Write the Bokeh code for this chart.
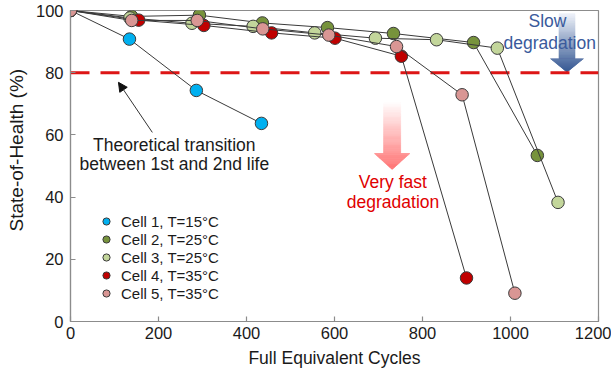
from bokeh.plotting import figure
from bokeh.models import Legend, LegendItem, Label, Arrow, NormalHead, Range1d, FixedTicker
from bokeh.embed import file_html
from bokeh.resources import INLINE

# ---- data ----
cell1_x = [0, 134, 286, 434]
cell1_y = [100, 90.8, 74.3, 63.7]
cell2_x = [0, 139, 293, 436, 584, 734, 916, 1061]
cell2_y = [100, 98.1, 98.5, 96.0, 94.5, 92.6, 89.7, 53.4]
cell3_x = [0, 135, 276, 415, 555, 693, 832, 970, 1108]
cell3_y = [100, 97.6, 95.9, 94.9, 92.8, 91.1, 90.6, 87.9, 38.3]
cell4_x = [0, 155, 303, 457, 601, 752, 900]
cell4_y = [100, 96.9, 95.2, 92.8, 91.1, 85.3, 14.0]
cell5_x = [0, 139, 288, 437, 587, 741, 890, 1010]
cell5_y = [100, 96.8, 96.8, 94.1, 92.1, 88.4, 72.9, 9.1]
labels = ["Cell 1, T=15°C", "Cell 2, T=25°C", "Cell 3, T=25°C", "Cell 4, T=35°C", "Cell 5, T=35°C"]
colors = ["#00B0F0", "#77933C", "#C3D69B", "#C00000", "#D99694"]
x_ticks = [0, 200, 400, 600, 800, 1000, 1200]
y_ticks = [0, 20, 40, 60, 80, 100]
threshold = 80

FONT = "Liberation Sans"
AX = "#8c8c8c"

p = figure(width=611, height=376, output_backend="svg", toolbar_location=None,
           x_range=Range1d(x_ticks[0], x_ticks[-1]), y_range=Range1d(y_ticks[0], y_ticks[-1]),
           min_border_left=70, min_border_right=13, min_border_top=10, min_border_bottom=55)
p.grid.visible = False
p.outline_line_color = AX
p.outline_line_width = 1.2

for ax in (p.xaxis[0], p.yaxis[0]):
    ax.axis_line_color = AX
    ax.axis_line_width = 1.2
    ax.major_tick_line_color = AX
    ax.major_tick_line_width = 1.2
    ax.major_tick_in = 5
    ax.major_tick_out = 0
    ax.minor_tick_line_color = None
    ax.major_label_text_font = FONT
    ax.major_label_text_font_size = "16.5px"
    ax.major_label_text_color = "#1a1a1a"
    ax.axis_label_text_font = FONT
    ax.axis_label_text_font_style = "normal"
    ax.axis_label_text_color = "#1a1a1a"
p.xaxis.ticker = FixedTicker(ticks=x_ticks)
p.yaxis.ticker = FixedTicker(ticks=y_ticks)
p.xaxis.major_label_standoff = 5
p.yaxis.major_label_standoff = 7
p.xaxis.axis_label = "Full Equivalent Cycles"
# leading no-break spaces shift the centred title upward, as in the reference
p.yaxis.axis_label = "\u00a0" * 6 + "State-of-Health (%)"
p.xaxis.axis_label_text_font_size = "17.5px"
p.yaxis.axis_label_text_font_size = "19px"
p.xaxis.axis_label_standoff = 6
p.yaxis.axis_label_standoff = 6


def lerp(c0, c1, t):
    a = [int(c0[i:i + 2], 16) for i in (1, 3, 5)]
    b = [int(c1[i:i + 2], 16) for i in (1, 3, 5)]
    return "#%02x%02x%02x" % tuple(round(a[k] + (b[k] - a[k]) * t) for k in range(3))


def grad_arrow(cx, top, head_start, tip, shaft_hw, head_hw, c0, c1, n=60):
    def hw(y):
        if (y - head_start) * (top - head_start) > 0:
            return shaft_hw
        return head_hw * (tip - y) / (tip - head_start)
    xs, ys, cs = [], [], []
    for i in range(n):
        ya = top + (tip - top) * i / n
        yb = top + (tip - top) * (i + 1) / n
        col = lerp(c0, c1, (i + 0.5) / n)
        if (ya - head_start) * (yb - head_start) < 0:
            segs = [(ya, head_start, shaft_hw, shaft_hw), (head_start, yb, head_hw, hw(yb))]
        else:
            segs = [(ya, yb, hw(ya), hw(yb))]
        for (u, v, wu, wv) in segs:
            xs.append([cx - wu, cx + wu, cx + wv, cx - wv])
            ys.append([u, u, v, v])
            cs.append(col)
    p.patches(xs, ys, fill_color=cs, line_color=cs, line_width=0.6)


# gradient arrows (annotations)
grad_arrow(1128.4, 99.0, 84.5, 80.2, 18.2, 37.5, "#F0F3FA", "#2E528F")
grad_arrow(731, 70.5, 54.0, 48.9, 19.3, 40.0, "#FFFFFF", "#FF7272")

# threshold line
p.line([x_ticks[0], x_ticks[-1]], [threshold, threshold], line_color="#DD1515",
       line_width=3, line_dash="19 11")

xs_all = [cell1_x, cell2_x, cell3_x, cell4_x, cell5_x]
ys_all = [cell1_y, cell2_y, cell3_y, cell4_y, cell5_y]
items = []
for xs, ys, c, lab in zip(xs_all, ys_all, colors, labels):
    p.line(xs, ys, line_color="#3a3a3a", line_width=1)
    r = p.scatter(xs, ys, size=12.5, fill_color=c, line_color="#3a3a3a", line_width=1)
    items.append(LegendItem(label=lab, renderers=[r]))

legend = Legend(items=items, location=(26, 19), padding=0, spacing=0,
                glyph_height=18, glyph_width=20, label_height=18, label_standoff=5,
                label_text_font=FONT, label_text_font_size="15px", label_text_color="#1a1a1a",
                background_fill_alpha=0, border_line_alpha=0, margin=0)
p.add_layout(legend)

p.add_layout(Arrow(end=NormalHead(size=9, fill_color="#111111", line_color="#111111"),
                   x_start=186, y_start=60.8, x_end=109, y_end=76.9,
                   line_color="#333333", line_width=1))
for txt, x, y, col in [("Theoretical transition", 236, 56.9, "#1a1a1a"),
                       ("between 1st and 2nd life", 236, 50.7, "#1a1a1a"),
                       ("Slow", 1084, 96.6, "#3A5A9C"),
                       ("degradation", 1089, 89.4, "#3A5A9C"),
                       ("Very fast", 732.6, 44.8, "#E00000"),
                       ("degradation", 733, 38.4, "#E00000")]:
    p.add_layout(Label(x=x, y=y, text=txt, text_align="center", text_baseline="middle",
                       text_font=FONT, text_font_size="17.5px", text_color=col))

open("out.html", "w").write(file_html(p, INLINE))
